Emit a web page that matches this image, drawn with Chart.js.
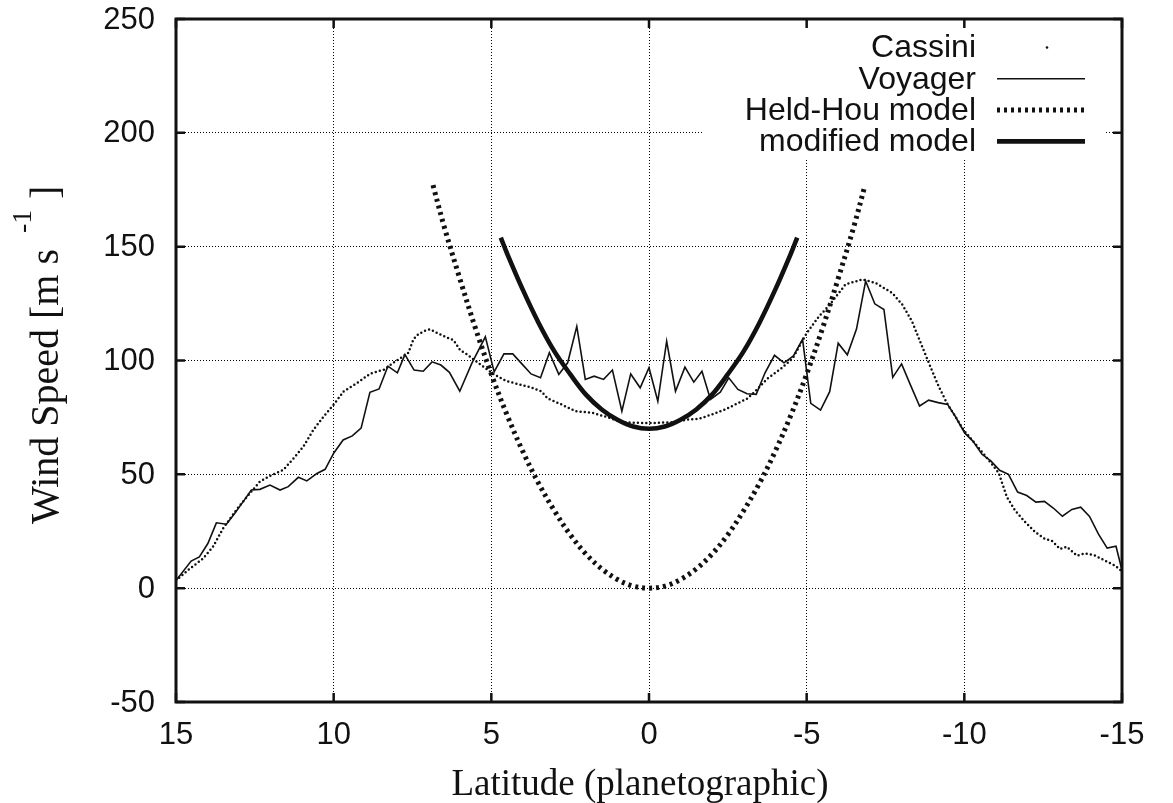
<!DOCTYPE html>
<html>
<head>
<meta charset="utf-8">
<script src="https://cdn.jsdelivr.net/npm/chart.js@4.4.1/dist/chart.umd.min.js"></script>
<style>
  html, body { margin: 0; padding: 0; background: #fff; }
</style>
</head>
<body>
<canvas id="windChart" width="1173" height="803"></canvas>
<script>
// axis ticks
const latTicks = [15, 10, 5, 0, -5, -10, -15];
const speedTicks = [-50, 0, 50, 100, 150, 200, 250];

// Voyager profile
const voyagerLat = [15.0, 14.52, 14.26, 13.99, 13.72, 13.40, 13.14, 12.87, 12.61, 12.34, 12.02, 11.70, 11.44, 11.12, 10.85, 10.53, 10.27, 10.0, 9.70, 9.41, 9.13, 8.85, 8.56, 8.28, 7.98, 7.74, 7.45, 7.16, 6.88, 6.60, 6.33, 6.00, 5.62, 5.19, 4.91, 4.60, 4.32, 4.01, 3.74, 3.44, 3.16, 2.86, 2.58, 2.29, 2.02, 1.74, 1.44, 1.16, 0.86, 0.58, 0.28, 0.0, -0.28, -0.56, -0.84, -1.14, -1.42, -1.68, -1.95, -2.26, -2.53, -2.82, -3.11, -3.40, -3.68, -3.98, -4.28, -4.58, -4.87, -5.13, -5.44, -5.73, -6.0, -6.29, -6.58, -6.87, -7.16, -7.45, -7.73, -8.01, -8.29, -8.58, -8.87, -9.17, -9.47, -9.72, -10.01, -10.27, -10.56, -10.84, -11.12, -11.40, -11.69, -11.98, -12.27, -12.54, -12.83, -13.11, -13.41, -13.69, -13.97, -14.25, -14.53, -14.81, -15.0];
const voyagerSpeed = [3.4, 11.9, 13.7, 19.6, 28.7, 28.1, 32.8, 38.0, 43.1, 43.4, 45.3, 43.1, 44.6, 48.7, 47.1, 50.4, 52.2, 59.3, 65.1, 66.9, 70.3, 86.0, 87.5, 97.5, 94.6, 102.6, 95.8, 95.3, 99.4, 98.0, 94.8, 86.5, 98.7, 110.4, 95.0, 102.9, 102.9, 98.2, 94.1, 92.4, 103.4, 93.9, 99.0, 115.0, 91.7, 93.1, 91.7, 95.8, 77.7, 94.1, 88.0, 96.8, 82.1, 108.5, 86.5, 97.1, 90.5, 95.3, 82.9, 86.1, 92.4, 87.3, 85.4, 85.1, 94.6, 102.3, 99.0, 102.0, 109.3, 81.2, 78.2, 86.3, 107.6, 102.5, 113.8, 134.9, 124.9, 122.4, 92.6, 98.5, 89.3, 80.0, 82.6, 81.5, 80.7, 75.3, 68.2, 64.6, 58.8, 55.9, 51.8, 50.0, 42.2, 40.7, 37.8, 38.1, 35.1, 31.6, 34.6, 35.6, 31.5, 23.8, 17.6, 18.4, 7.9];

// Cassini profile
const cassiniLat = [15.0, 14.57, 14.15, 13.83, 13.51, 13.09, 12.66, 12.34, 12.02, 11.60, 11.22, 10.96, 10.64, 10.32, 10.0, 9.68, 9.26, 8.83, 8.40, 8.11, 7.63, 7.47, 7.31, 7.10, 6.94, 6.73, 6.41, 6.20, 5.99, 5.78, 5.46, 5.25, 4.93, 4.53, 4.11, 3.79, 3.42, 3.21, 2.84, 2.32, 1.79, 1.37, 0.84, 0.32, -0.21, -0.74, -1.26, -1.58, -2.0, -2.42, -2.84, -3.11, -3.37, -3.75, -4.19, -4.56, -5.0, -5.39, -5.72, -6.23, -6.76, -7.18, -7.71, -8.03, -8.34, -8.66, -8.92, -9.19, -9.45, -9.72, -9.98, -10.25, -10.56, -10.82, -11.09, -11.35, -11.61, -11.93, -12.25, -12.56, -12.77, -13.04, -13.25, -13.57, -13.83, -14.15, -14.46, -14.78, -15.0];
const cassiniSpeed = [3.4, 8.5, 12.9, 18.1, 26.2, 34.3, 41.6, 46.8, 49.3, 51.9, 57.8, 62.2, 69.6, 75.4, 80.6, 86.5, 90.1, 94.3, 96.0, 99.0, 103.4, 109.3, 111.6, 113.1, 113.7, 112.2, 110.1, 109.0, 104.6, 102.8, 99.4, 97.2, 94.0, 91.0, 89.5, 88.4, 86.5, 83.3, 81.1, 77.7, 77.0, 75.3, 72.9, 72.6, 72.6, 72.9, 74.1, 74.4, 76.3, 78.5, 81.4, 83.2, 86.5, 92.0, 96.5, 101.0, 112.0, 119.4, 124.3, 133.4, 135.6, 134.1, 129.7, 124.6, 117.2, 106.2, 97.4, 88.5, 81.2, 75.3, 69.4, 65.0, 59.9, 55.4, 50.6, 40.0, 34.1, 29.0, 24.6, 21.6, 20.9, 17.2, 18.2, 14.3, 15.3, 14.3, 12.1, 9.9, 7.4];

// Held-Hou model curve
const heldHouLat = [6.85, 6.5, 6, 5.5, 5, 4.5, 4, 3.5, 3, 2.5, 2, 1.5, 1, 0.5, 0, -0.5, -1, -1.5, -2, -2.5, -3, -3.5, -4, -4.5, -5, -5.5, -6, -6.5, -6.85];
const heldHouSpeed = [177, 159, 136, 114, 94, 76, 60, 46, 34, 23.5, 15, 8.5, 3.8, 0.9, 0, 0.9, 3.8, 8.5, 15, 23.5, 34, 46, 60, 76, 94, 114, 136, 159, 177];

// modified model curve
const modifiedLat = [4.7, 4.5, 4, 3.5, 3, 2.5, 2, 1.5, 1, 0.5, 0, -0.5, -1, -1.5, -2, -2.5, -3, -3.5, -4, -4.5, -4.7];
const modifiedSpeed = [154, 147, 131, 116.5, 104, 94, 85, 78.5, 74, 71, 70, 71, 74, 78.5, 85, 94, 104, 116.5, 131, 147, 154];

const toPoints = (xs, ys) => xs.map((v, i) => ({ x: v, y: ys[i] }));

const INK = '#111';
const sansFont = '"Liberation Sans", Arial, Helvetica, sans-serif';
const serifFont = '"Liberation Serif", "Times New Roman", serif';

// order: gnuplot draws later curves on top
const datasets = [
  {
    label: 'Cassini', order: 3,
    data: toPoints(cassiniLat, cassiniSpeed),
    borderColor: INK, borderWidth: 2.5,
    borderDash: [0, 4.2], borderCapStyle: 'round',
  },
  {
    label: 'Voyager', order: 2,
    data: toPoints(voyagerLat, voyagerSpeed),
    borderColor: INK, borderWidth: 1.6,
  },
  {
    label: 'Held-Hou model', order: 1,
    data: toPoints(heldHouLat, heldHouSpeed),
    borderColor: INK, borderWidth: 5, borderDash: [3, 4], tension: 0.35,
  },
  {
    label: 'modified model', order: 0,
    data: toPoints(modifiedLat, modifiedSpeed),
    borderColor: INK, borderWidth: 4.6, tension: 0.35,
  },
].map(d => ({ showLine: true, pointRadius: 0, fill: false, ...d }));

// gnuplot-ish frame, inward ticks, text and key
const gnuplotFrame = {
  id: 'gnuplotFrame',
  beforeDatasetsDraw(chart) {
    // key area hides the grid
    const ctx = chart.ctx;
    ctx.save();
    ctx.fillStyle = '#fff';
    ctx.fillRect(703, chart.chartArea.top, 403, 141);
    ctx.restore();
  },
  afterDraw(chart) {
    const { ctx, chartArea: a, scales: { x, y } } = chart;
    ctx.save();
    ctx.strokeStyle = INK;
    ctx.fillStyle = INK;

    ctx.lineWidth = 2.5;
    ctx.beginPath();
    latTicks.forEach(v => {
      const px = x.getPixelForValue(v);
      ctx.moveTo(px, a.bottom); ctx.lineTo(px, a.bottom - 9);
      ctx.moveTo(px, a.top); ctx.lineTo(px, a.top + 9);
    });
    speedTicks.forEach(v => {
      const py = y.getPixelForValue(v);
      ctx.moveTo(a.left, py); ctx.lineTo(a.left + 9, py);
      ctx.moveTo(a.right, py); ctx.lineTo(a.right - 9, py);
    });
    ctx.stroke();
    ctx.lineWidth = 3;
    ctx.strokeRect(a.left, a.top, a.right - a.left, a.bottom - a.top);

    // tick labels
    ctx.font = '31px ' + sansFont;
    ctx.textBaseline = 'middle';
    ctx.textAlign = 'right';
    speedTicks.forEach(v => ctx.fillText(String(v), 155, y.getPixelForValue(v) + 1));
    ctx.textAlign = 'center';
    latTicks.forEach(v => ctx.fillText(String(v), x.getPixelForValue(v), 735));

    // x title
    ctx.font = '37px ' + serifFont;
    ctx.textBaseline = 'alphabetic';
    ctx.fillText('Latitude (planetographic)', 640, 795);

    // y title, rotated, with superscript
    const rot = (txt, cx, cy, font) => {
      ctx.save();
      ctx.translate(cx, cy);
      ctx.rotate(-Math.PI / 2);
      ctx.font = font;
      ctx.textAlign = 'left';
      ctx.fillText(txt, 0, 0);
      ctx.restore();
    };
    rot('Wind Speed [m s', 58, 524, '40px ' + serifFont);
    rot('-1', 31, 233, '28px ' + serifFont);
    rot(']', 58, 199, '40px ' + serifFont);

    // key
    ctx.font = '32px ' + sansFont;
    ctx.textAlign = 'right';
    ctx.textBaseline = 'middle';
    chart.data.datasets.forEach((ds, i) => {
      const ry = 47.5 + i * 31.3;
      ctx.fillText(ds.label, 976, ry + 1);
      ctx.save();
      ctx.lineWidth = ds.borderWidth;
      ctx.setLineDash(ds.borderDash || []);
      ctx.lineCap = ds.borderCapStyle || 'butt';
      ctx.beginPath();
      if (ds.label === 'Cassini') {
        ctx.setLineDash([]);
        ctx.arc(1047, ry, 1.3, 0, Math.PI * 2);
        ctx.fill();
      } else {
        ctx.moveTo(997, ry);
        ctx.lineTo(1085, ry);
        ctx.stroke();
      }
      ctx.restore();
    });
    ctx.restore();
  }
};

new Chart(document.getElementById('windChart'), {
  type: 'scatter',
  data: { datasets },
  options: {
    responsive: false,
    animation: false,
    devicePixelRatio: 1,
    layout: { padding: { top: 19, right: 51, left: 0, bottom: 0 } },
    plugins: { legend: { display: false }, tooltip: { enabled: false } },
    scales: {
      x: {
        type: 'linear', min: -15, max: 15, reverse: true,
        ticks: { stepSize: 5, display: false },
        grid: { color: '#000', lineWidth: 1, drawTicks: false },
        border: { display: false, dash: [1, 2] },
        afterFit: s => { s.height = 101; },
      },
      y: {
        type: 'linear', min: -50, max: 250,
        ticks: { stepSize: 50, display: false },
        grid: { color: '#000', lineWidth: 1, drawTicks: false },
        border: { display: false, dash: [1, 2] },
        afterFit: s => { s.width = 176; },
      },
    },
  },
  plugins: [gnuplotFrame],
});
</script>
</body>
</html>
